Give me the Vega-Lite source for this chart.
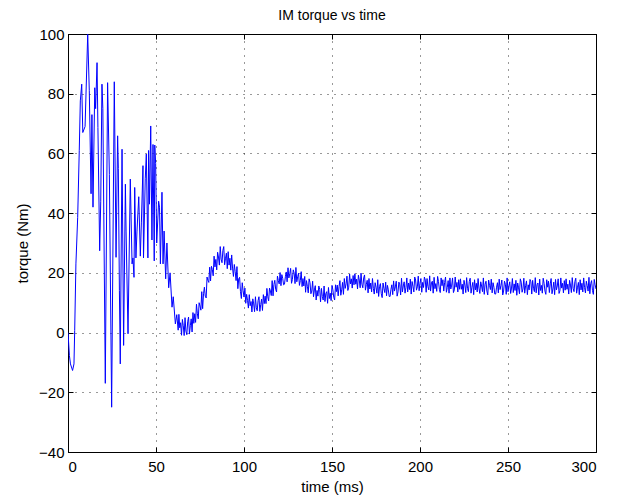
{
  "$schema": "https://vega.github.io/schema/vega-lite/v6.json",
  "width": 528,
  "height": 418,
  "autosize": {"type": "none"},
  "padding": {"left": 68, "top": 34, "right": 26, "bottom": 47},
  "background": "white",
  "config": {
    "font": "Liberation Sans",
    "view": {"stroke": "black", "strokeWidth": 1},
    "axis": {
      "domainColor": "black",
      "tickColor": "black",
      "tickSize": -5,
      "labelColor": "black",
      "labelFontSize": 15,
      "titleFontSize": 15,
      "titleFontWeight": "normal",
      "titleColor": "black",
      "gridColor": "black",
      "gridDash": [1, 6],
      "gridOpacity": 0.8
    },
    "title": {"fontSize": 14, "fontWeight": "normal", "color": "black", "offset": 0}
  },
  "title": "IM torque vs time",
  "resolve": {"axis": {"x": "independent", "y": "independent"}},
  "layer": [
    {
      "data": {"values": [
        {"t":0,"v":0},{"t":0.8,"v":-7.7},{"t":1.4,"v":-10.5},{"t":2.6,"v":-12.7},{"t":3.4,"v":-10.5},{"t":3.8,"v":0.7},
        {"t":4.5,"v":23},{"t":5.5,"v":38.6},{"t":6.4,"v":60.9},{"t":7,"v":77.6},{"t":7.8,"v":83.2},{"t":8.4,"v":67},
        {"t":9.7,"v":69},{"t":11.2,"v":99.9},{"t":12.1,"v":81},{"t":13.1,"v":46.5},{"t":13.6,"v":73},{"t":14.2,"v":42},
        {"t":15.2,"v":82},{"t":15.7,"v":75},{"t":16.5,"v":90.4},{"t":17,"v":68.7},{"t":18,"v":27.4},{"t":18.6,"v":44},
        {"t":19.3,"v":83.2},{"t":19.8,"v":75},{"t":21.2,"v":-17},{"t":22.5,"v":83.7},{"t":23.5,"v":53},{"t":24.8,"v":-25},
        {"t":26.3,"v":84},{"t":27.3,"v":25.2},{"t":28.2,"v":65.9},{"t":28.6,"v":55},{"t":29.2,"v":14},{"t":29.7,"v":-10.5},
        {"t":30.7,"v":61.4},{"t":31.6,"v":-4.3},{"t":32.6,"v":49.7},{"t":33,"v":34},{"t":34.1,"v":-0.4},{"t":35.4,"v":51.4},
        {"t":36.4,"v":23},{"t":36.9,"v":25},{"t":37.5,"v":18.5},{"t":37.9,"v":48.6},{"t":38.6,"v":25},{"t":39.2,"v":34},
        {"t":40.2,"v":45.5},{"t":41.1,"v":25.6},{"t":41.7,"v":37},{"t":42.6,"v":55.9},{"t":42.9,"v":25},{"t":43.9,"v":51.5},
        {"t":44.5,"v":59.8},{"t":45.4,"v":25},{"t":45.8,"v":61},{"t":46.3,"v":43},{"t":47,"v":69.2},{"t":47.7,"v":31},
        {"t":48.3,"v":63},{"t":49,"v":24},{"t":49.3,"v":62.8},{"t":49.8,"v":56.6},{"t":50.4,"v":30},{"t":51.5,"v":44},
        {"t":52,"v":42},{"t":52.5,"v":23},{"t":53.4,"v":47},{"t":54,"v":23},{"t":54.6,"v":34},{"t":55.5,"v":18},
        {"t":56.2,"v":30},{"t":57.2,"v":15},{"t":58,"v":20},{"t":59.1,"v":8.5},{"t":59.8,"v":12},{"t":61,"v":2.9},
        {"t":61.8,"v":6},{"t":62.6,"v":0.8},
        {"t":63,"v":6.1},{"t":63.5,"v":1.6},{"t":64,"v":3.3},{"t":64.5,"v":-0.9},{"t":65,"v":4.4},{"t":65.5,"v":2.3},
        {"t":66,"v":-1.0},{"t":66.5,"v":5.0},{"t":67,"v":0.5},{"t":67.5,"v":-0.7},{"t":68,"v":3.6},{"t":68.5,"v":5.2},
        {"t":69,"v":-0.5},{"t":69.5,"v":2.3},{"t":70,"v":4.6},{"t":70.5,"v":0.2},{"t":71,"v":6.7},{"t":71.5,"v":3.1},
        {"t":72,"v":6.3},{"t":72.5,"v":3.4},{"t":73,"v":9.5},{"t":73.5,"v":6.3},{"t":74,"v":4.6},{"t":74.5,"v":10.0},
        {"t":75,"v":8.9},{"t":75.5,"v":7.5},{"t":76,"v":13.7},{"t":76.5,"v":8.0},{"t":77,"v":13.0},{"t":77.5,"v":15.2},
        {"t":78,"v":12.2},{"t":78.5,"v":11.6},{"t":79,"v":18.6},{"t":79.5,"v":17.5},{"t":80,"v":16.8},{"t":80.5,"v":21.9},
        {"t":81,"v":17.3},{"t":81.5,"v":22.2},{"t":82,"v":21.1},{"t":82.5,"v":19.0},
        {"t":83,"v":25.6},{"t":83.5,"v":22.0},{"t":84,"v":24.5},{"t":84.5,"v":21.0},{"t":85,"v":26.9},{"t":85.5,"v":25.3},
        {"t":86,"v":22.6},{"t":86.5,"v":28.8},{"t":87,"v":24.6},{"t":87.5,"v":23.4},{"t":88,"v":27.5},{"t":88.5,"v":28.8},
        {"t":89,"v":22.7},{"t":89.5,"v":24.9},{"t":90,"v":26.6},{"t":90.5,"v":21.4},{"t":91,"v":27.1},{"t":91.5,"v":22.6},
        {"t":92,"v":24.9},{"t":92.5,"v":20.9},{"t":93,"v":26.0},{"t":93.5,"v":21.6},{"t":94,"v":18.8},{"t":94.5,"v":22.8},
        {"t":95,"v":20.4},{"t":95.5,"v":17.4},{"t":96,"v":22.1},{"t":96.5,"v":14.7},{"t":97,"v":18.0},{"t":97.5,"v":18.5},
        {"t":98,"v":13.7},{"t":98.5,"v":11.4},{"t":99,"v":16.7},{"t":99.5,"v":14.0},{"t":100,"v":11.9},{"t":100.5,"v":14.9},
        {"t":101,"v":9.8},{"t":101.5,"v":12.8},{"t":102,"v":10.8},{"t":102.5,"v":8.2},
        {"t":103,"v":12.7},{"t":103.5,"v":9.0},{"t":104,"v":10.4},{"t":104.5,"v":6.9},{"t":105,"v":11.3},{"t":105.5,"v":9.6},
        {"t":106,"v":7.0},{"t":106.5,"v":12.0},{"t":107,"v":8.3},{"t":107.5,"v":7.3},{"t":108,"v":10.7},{"t":108.5,"v":12.0},
        {"t":109,"v":7.1},{"t":109.5,"v":9.4},{"t":110,"v":11.2},{"t":110.5,"v":7.4},{"t":111,"v":12.7},{"t":111.5,"v":9.7},
        {"t":112,"v":12.2},{"t":112.5,"v":9.7},{"t":113,"v":14.8},{"t":113.5,"v":12.0},{"t":114,"v":10.6},{"t":114.5,"v":14.9},
        {"t":115,"v":13.9},{"t":115.5,"v":12.4},{"t":116,"v":17.4},{"t":116.5,"v":12.3},{"t":117,"v":16.1},{"t":117.5,"v":17.5},
        {"t":118,"v":14.5},{"t":118.5,"v":13.6},{"t":119,"v":18.9},{"t":119.5,"v":17.4},{"t":120,"v":16.3},{"t":120.5,"v":20.1},
        {"t":121,"v":15.7},{"t":121.5,"v":19.4},{"t":122,"v":18.1},{"t":122.5,"v":16.0},
        {"t":123,"v":16.2},{"t":123.5,"v":18.7},{"t":124,"v":20.3},{"t":124.5,"v":17.0},{"t":125,"v":21.7},{"t":125.5,"v":18.3},
        {"t":126,"v":19.7},{"t":126.5,"v":21.5},{"t":127,"v":16.5},{"t":127.5,"v":17.8},{"t":128,"v":21.0},{"t":128.5,"v":19.9},
        {"t":129,"v":16.4},{"t":129.5,"v":21.8},{"t":130,"v":17.0},{"t":130.5,"v":18.7},{"t":131,"v":19.9},{"t":131.5,"v":15.8},
        {"t":132,"v":17.4},{"t":132.5,"v":20.4},{"t":133,"v":15.4},{"t":133.5,"v":18.1},{"t":134,"v":15.6},{"t":134.5,"v":18.8},
        {"t":135,"v":13.5},{"t":135.5,"v":17.4},{"t":136,"v":15.5},{"t":136.5,"v":13.3},{"t":137,"v":18.0},{"t":137.5,"v":16.7},
        {"t":138,"v":13.0},{"t":138.5,"v":13.9},{"t":139,"v":17.2},{"t":139.5,"v":12.0},{"t":140,"v":14.3},{"t":140.5,"v":15.7},
        {"t":141,"v":10.9},{"t":141.5,"v":14.1},{"t":142,"v":12.2},{"t":142.5,"v":15.6},
        {"t":143,"v":14.5},{"t":143.5,"v":10.3},{"t":144,"v":14.8},{"t":144.5,"v":12.1},{"t":145,"v":10.9},{"t":145.5,"v":15.6},
        {"t":146,"v":10.4},{"t":146.5,"v":13.1},{"t":147,"v":13.7},{"t":147.5,"v":9.8},{"t":148,"v":15.1},{"t":148.5,"v":11.4},
        {"t":149,"v":13.2},{"t":149.5,"v":10.7},{"t":150,"v":15.8},{"t":150.5,"v":14.3},{"t":151,"v":11.8},{"t":151.5,"v":10.9},
        {"t":152,"v":16.0},{"t":152.5,"v":13.7},{"t":153,"v":15.9},{"t":153.5,"v":12.3},{"t":154,"v":15.4},{"t":154.5,"v":17.4},
        {"t":155,"v":12.5},{"t":155.5,"v":14.3},{"t":156,"v":16.8},{"t":156.5,"v":12.8},{"t":157,"v":18.1},{"t":157.5,"v":14.8},
        {"t":158,"v":16.3},{"t":158.5,"v":18.9},{"t":159,"v":14.1},{"t":159.5,"v":15.2},{"t":160,"v":19.6},{"t":160.5,"v":16.3},
        {"t":161,"v":18.0},{"t":161.5,"v":14.9},{"t":162,"v":19.1},{"t":162.5,"v":16.0},
        {"t":163,"v":19.7},{"t":163.5,"v":16.2},{"t":164,"v":17.9},{"t":164.5,"v":14.6},{"t":165,"v":19.2},{"t":165.5,"v":17.6},
        {"t":166,"v":15.0},{"t":166.5,"v":19.9},{"t":167,"v":16.2},{"t":167.5,"v":15.0},{"t":168,"v":18.3},{"t":168.5,"v":19.3},
        {"t":169,"v":14.2},{"t":169.5,"v":16.1},{"t":170,"v":17.5},{"t":170.5,"v":13.3},{"t":171,"v":18.1},{"t":171.5,"v":14.6},
        {"t":172,"v":16.6},{"t":172.5,"v":13.6},{"t":173,"v":18.1},{"t":173.5,"v":14.8},{"t":174,"v":12.9},{"t":174.5,"v":16.7},
        {"t":175,"v":15.2},{"t":175.5,"v":13.2},{"t":176,"v":17.7},{"t":176.5,"v":12.1},{"t":177,"v":15.4},{"t":177.5,"v":16.4},
        {"t":178,"v":13.0},{"t":178.5,"v":11.7},{"t":179,"v":16.6},{"t":179.5,"v":14.8},{"t":180,"v":13.4},{"t":180.5,"v":16.9},
        {"t":181,"v":12.3},{"t":181.5,"v":15.8},{"t":182,"v":14.3},{"t":182.5,"v":12.1},
        {"t":183,"v":12.1},{"t":183.5,"v":14.5},{"t":184,"v":16.0},{"t":184.5,"v":12.7},{"t":185,"v":17.3},{"t":185.5,"v":13.9},
        {"t":186,"v":15.3},{"t":186.5,"v":17.2},{"t":187,"v":12.2},{"t":187.5,"v":13.6},{"t":188,"v":16.9},{"t":188.5,"v":16.0},
        {"t":189,"v":12.6},{"t":189.5,"v":18.2},{"t":190,"v":13.6},{"t":190.5,"v":15.6},{"t":191,"v":17.0},{"t":191.5,"v":13.2},
        {"t":192,"v":15.0},{"t":192.5,"v":18.3},{"t":193,"v":13.6},{"t":193.5,"v":16.6},{"t":194,"v":14.4},{"t":194.5,"v":17.9},
        {"t":195,"v":12.9},{"t":195.5,"v":17.1},{"t":196,"v":15.5},{"t":196.5,"v":13.6},{"t":197,"v":18.6},{"t":197.5,"v":17.6},
        {"t":198,"v":14.2},{"t":198.5,"v":15.3},{"t":199,"v":18.9},{"t":199.5,"v":14.0},{"t":200,"v":16.5},{"t":200.5,"v":18.1},
        {"t":201,"v":13.5},{"t":201.5,"v":16.8},{"t":202,"v":15.1},{"t":202.5,"v":18.6},
        {"t":203,"v":17.6},{"t":203.5,"v":13.5},{"t":204,"v":18.1},{"t":204.5,"v":15.4},{"t":205,"v":14.3},{"t":205.5,"v":19.0},
        {"t":206,"v":13.9},{"t":206.5,"v":16.6},{"t":207,"v":17.2},{"t":207.5,"v":13.2},{"t":208,"v":18.5},{"t":208.5,"v":14.7},
        {"t":209,"v":16.4},{"t":209.5,"v":13.8},{"t":210,"v":18.8},{"t":210.5,"v":17.1},{"t":211,"v":14.5},{"t":211.5,"v":13.4},
        {"t":212,"v":18.3},{"t":212.5,"v":15.7},{"t":213,"v":17.7},{"t":213.5,"v":13.9},{"t":214,"v":16.8},{"t":214.5,"v":18.6},
        {"t":215,"v":13.5},{"t":215.5,"v":15.1},{"t":216,"v":17.4},{"t":216.5,"v":13.2},{"t":217,"v":18.3},{"t":217.5,"v":14.6},
        {"t":218,"v":15.9},{"t":218.5,"v":18.3},{"t":219,"v":13.4},{"t":219.5,"v":14.3},{"t":220,"v":18.6},{"t":220.5,"v":15.2},
        {"t":221,"v":16.8},{"t":221.5,"v":13.6},{"t":222,"v":17.7},{"t":222.5,"v":14.5},
        {"t":223,"v":18.0},{"t":223.5,"v":14.5},{"t":224,"v":16.2},{"t":224.5,"v":12.9},{"t":225,"v":17.5},{"t":225.5,"v":15.9},
        {"t":226,"v":13.4},{"t":226.5,"v":18.4},{"t":227,"v":14.8},{"t":227.5,"v":13.7},{"t":228,"v":17.1},{"t":228.5,"v":18.2},
        {"t":229,"v":13.2},{"t":229.5,"v":15.2},{"t":230,"v":16.8},{"t":230.5,"v":12.7},{"t":231,"v":17.7},{"t":231.5,"v":14.3},
        {"t":232,"v":16.5},{"t":232.5,"v":13.6},{"t":233,"v":18.1},{"t":233.5,"v":14.9},{"t":234,"v":13.1},{"t":234.5,"v":17.0},
        {"t":235,"v":15.6},{"t":235.5,"v":13.7},{"t":236,"v":18.3},{"t":236.5,"v":12.8},{"t":237,"v":16.2},{"t":237.5,"v":17.2},
        {"t":238,"v":13.9},{"t":238.5,"v":12.6},{"t":239,"v":17.6},{"t":239.5,"v":15.8},{"t":240,"v":14.4},{"t":240.5,"v":17.9},
        {"t":241,"v":13.3},{"t":241.5,"v":16.7},{"t":242,"v":15.2},{"t":242.5,"v":12.9},
        {"t":243,"v":12.9},{"t":243.5,"v":15.2},{"t":244,"v":16.7},{"t":244.5,"v":13.3},{"t":245,"v":17.9},{"t":245.5,"v":14.4},
        {"t":246,"v":15.8},{"t":246.5,"v":17.6},{"t":247,"v":12.6},{"t":247.5,"v":13.9},{"t":248,"v":17.2},{"t":248.5,"v":16.2},
        {"t":249,"v":12.8},{"t":249.5,"v":18.3},{"t":250,"v":13.7},{"t":250.5,"v":15.6},{"t":251,"v":17.0},{"t":251.5,"v":13.1},
        {"t":252,"v":14.9},{"t":252.5,"v":18.1},{"t":253,"v":13.4},{"t":253.5,"v":16.3},{"t":254,"v":14.1},{"t":254.5,"v":17.5},
        {"t":255,"v":12.5},{"t":255.5,"v":16.6},{"t":256,"v":15.0},{"t":256.5,"v":13.0},{"t":257,"v":18.0},{"t":257.5,"v":16.9},
        {"t":258,"v":13.5},{"t":258.5,"v":14.6},{"t":259,"v":18.2},{"t":259.5,"v":13.2},{"t":260,"v":15.7},{"t":260.5,"v":17.3},
        {"t":261,"v":12.7},{"t":261.5,"v":16.0},{"t":262,"v":14.3},{"t":262.5,"v":17.8},
        {"t":263,"v":17.0},{"t":263.5,"v":12.9},{"t":264,"v":17.5},{"t":264.5,"v":14.8},{"t":265,"v":13.7},{"t":265.5,"v":18.4},
        {"t":266,"v":13.3},{"t":266.5,"v":16.0},{"t":267,"v":16.6},{"t":267.5,"v":12.6},{"t":268,"v":17.9},{"t":268.5,"v":14.1},
        {"t":269,"v":15.8},{"t":269.5,"v":13.2},{"t":270,"v":18.2},{"t":270.5,"v":16.5},{"t":271,"v":13.9},{"t":271.5,"v":12.8},
        {"t":272,"v":17.7},{"t":272.5,"v":15.2},{"t":273,"v":17.2},{"t":273.5,"v":13.4},{"t":274,"v":16.3},{"t":274.5,"v":18.1},
        {"t":275,"v":13.0},{"t":275.5,"v":14.6},{"t":276,"v":16.9},{"t":276.5,"v":12.7},{"t":277,"v":17.8},{"t":277.5,"v":14.3},
        {"t":278,"v":15.6},{"t":278.5,"v":18.0},{"t":279,"v":13.1},{"t":279.5,"v":14.0},{"t":280,"v":18.3},{"t":280.5,"v":14.9},
        {"t":281,"v":16.5},{"t":281.5,"v":13.3},{"t":282,"v":17.4},{"t":282.5,"v":14.2},
        {"t":283,"v":18.0},{"t":283.5,"v":14.5},{"t":284,"v":16.2},{"t":284.5,"v":12.9},{"t":285,"v":17.5},{"t":285.5,"v":15.9},
        {"t":286,"v":13.4},{"t":286.5,"v":18.4},{"t":287,"v":14.8},{"t":287.5,"v":13.7},{"t":288,"v":17.1},{"t":288.5,"v":18.2},
        {"t":289,"v":13.2},{"t":289.5,"v":15.2},{"t":290,"v":16.8},{"t":290.5,"v":12.7},{"t":291,"v":17.7},{"t":291.5,"v":14.3},
        {"t":292,"v":16.5},{"t":292.5,"v":13.6},{"t":293,"v":18.3},{"t":293.5,"v":15.1},{"t":294,"v":13.3},{"t":294.5,"v":17.2},
        {"t":295,"v":15.8},{"t":295.5,"v":13.9},{"t":296,"v":18.5},{"t":296.5,"v":13.0},{"t":297,"v":16.4},{"t":297.5,"v":17.4},
        {"t":298,"v":14.1},{"t":298.5,"v":12.8},{"t":299,"v":17.8},{"t":299.5,"v":16.0},{"t":300,"v":14.6}
      ]},
      "mark": {"type": "line", "color": "#0000ff", "strokeWidth": 1, "clip": true},
      "encoding": {
        "x": {"field": "t", "type": "quantitative", "scale": {"domain": [0, 300], "nice": false},
              "axis": {"title": "time (ms)", "values": [0,50,100,150,200,250,300], "labelPadding": 12, "titlePadding": 5}},
        "y": {"field": "v", "type": "quantitative", "scale": {"domain": [-40, 100], "nice": false},
              "axis": {"title": "torque (Nm)", "values": [-40,-20,0,20,40,60,80,100], "labelPadding": 9, "titlePadding": 8}}
      }
    },
    {
      "data": {"values": [{"t": 0, "v": -40}, {"t": 300, "v": 100}]},
      "mark": {"type": "point", "opacity": 0},
      "encoding": {
        "x": {"field": "t", "type": "quantitative", "scale": {"domain": [0, 300], "nice": false},
              "axis": {"orient": "top", "title": null, "labels": false, "grid": false, "values": [0,50,100,150,200,250,300]}},
        "y": {"field": "v", "type": "quantitative", "scale": {"domain": [-40, 100], "nice": false},
              "axis": {"orient": "right", "title": null, "labels": false, "grid": false, "values": [-40,-20,0,20,40,60,80,100]}}
      }
    }
  ]
}
